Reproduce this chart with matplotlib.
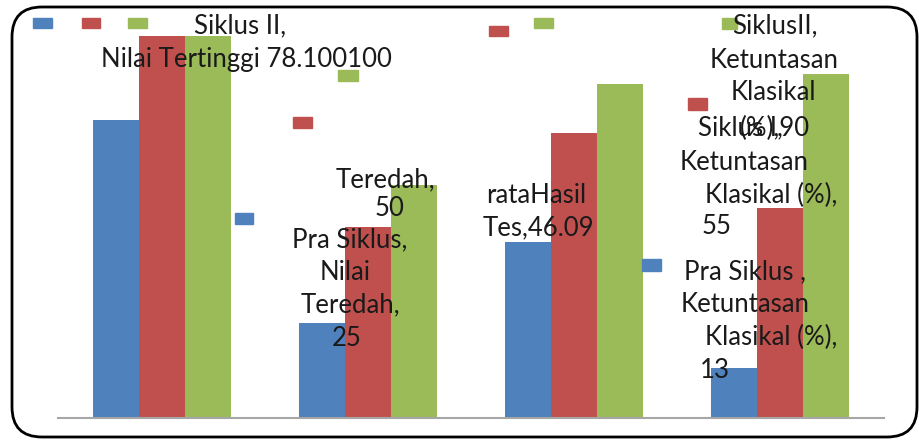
import numpy as np
import matplotlib
matplotlib.use("Agg")
import matplotlib.pyplot as plt
from matplotlib.patches import FancyBboxPatch, Rectangle

# data
categories = ["Nilai Tertinggi", "Nilai Terendah", "Rata-rata Hasil Tes", "Ketuntasan Klasikal (%)"]
pra_siklus = [78, 25, 46.09, 13]
siklus_1 = [100, 50, 74.6, 55]
siklus_2 = [100, 61, 87.4, 90]

colors = ["#4F81BD", "#C0504D", "#9BBB59"]

W, H = 919, 441
plt.rcParams['font.family'] = ['Lato', 'DejaVu Sans']
fig = plt.figure(figsize=(W / 100, H / 100), dpi=100)

# axes placed so baseline sits at y=418 px and 100 at y=36 px
ax = fig.add_axes([58 / W, (H - 418) / H, (884 - 58) / W, (418 - 36) / H])
x = np.arange(len(categories))
bw = 0.223
for i, vals in enumerate([pra_siklus, siklus_1, siklus_2]):
    ax.bar(x + (i - 1) * bw, vals, width=bw, color=colors[i], zorder=2)
ax.set_xlim(-0.505, 3.505)
ax.set_ylim(0, 100)
ax.set_xticks([])
ax.set_yticks([])
for s in ["top", "left", "right"]:
    ax.spines[s].set_visible(False)
ax.spines["bottom"].set_color("#A6A6A6")
ax.spines["bottom"].set_linewidth(1.5)
ax.patch.set_alpha(0)

# rounded frame (pixel coords via inches)
tr = fig.dpi_scale_trans
frame = FancyBboxPatch((12 / 100, (H - 437) / 100), (917 - 12) / 100, (437 - 7) / 100,
                       boxstyle="round,pad=0,rounding_size=0.3", fill=False,
                       ec="black", lw=2, transform=tr)
fig.patches.append(frame)


def px(xp, yp):
    return xp / W, 1 - yp / H


# little legend keys of the data labels
keys = [(33, 52, 18, 28, 0), (82, 100, 18, 28, 1), (128, 147, 18, 28, 2),
        (338, 358, 70, 81, 2), (293, 312, 117, 128, 1), (235, 253, 213, 224, 0),
        (489, 508, 26, 36, 1), (534, 553, 18, 28, 2), (722, 737, 18, 29, 2),
        (688, 707, 98, 110, 1), (642, 661, 259, 271, 0)]
for x0, x1, y0, y1, c in keys:
    fig.patches.append(Rectangle((x0 / W, 1 - y1 / H), (x1 - x0) / W, (y1 - y0) / H,
                                 transform=fig.transFigure, color=colors[c], zorder=3))

fs = 18.5
labels = [
    ("Siklus II,", 240, 26), ("Nilai Tertinggi 78.100100", 246, 60),
    ("Teredah,", 385, 180), ("50", 390, 208),
    ("Pra Siklus,", 350, 240), ("Nilai", 345, 272), ("Teredah,", 350, 305), ("25", 347, 338),
    ("rataHasil", 536, 195), ("Tes,46.09", 538, 228),
    ("SiklusII,", 775, 26), ("Ketuntasan", 774, 60), ("Klasikal", 773, 93), ("(%),90", 775, 128),
    ("Siklus I,", 740, 128), ("Ketuntasan", 744, 162), ("Klasikal (%),", 771, 195), ("55", 717, 226),
    ("Pra Siklus ,", 745, 272), ("Ketuntasan", 745, 304), ("Klasikal (%),", 771, 337), ("13", 715, 371),
]
for txt, xp, yp in labels:
    fx, fy = px(xp, yp)
    fig.text(fx, fy, txt, ha="center", va="center", fontsize=fs, color="#1a1a1a", zorder=5)

fig.savefig("out.png", dpi=100)
